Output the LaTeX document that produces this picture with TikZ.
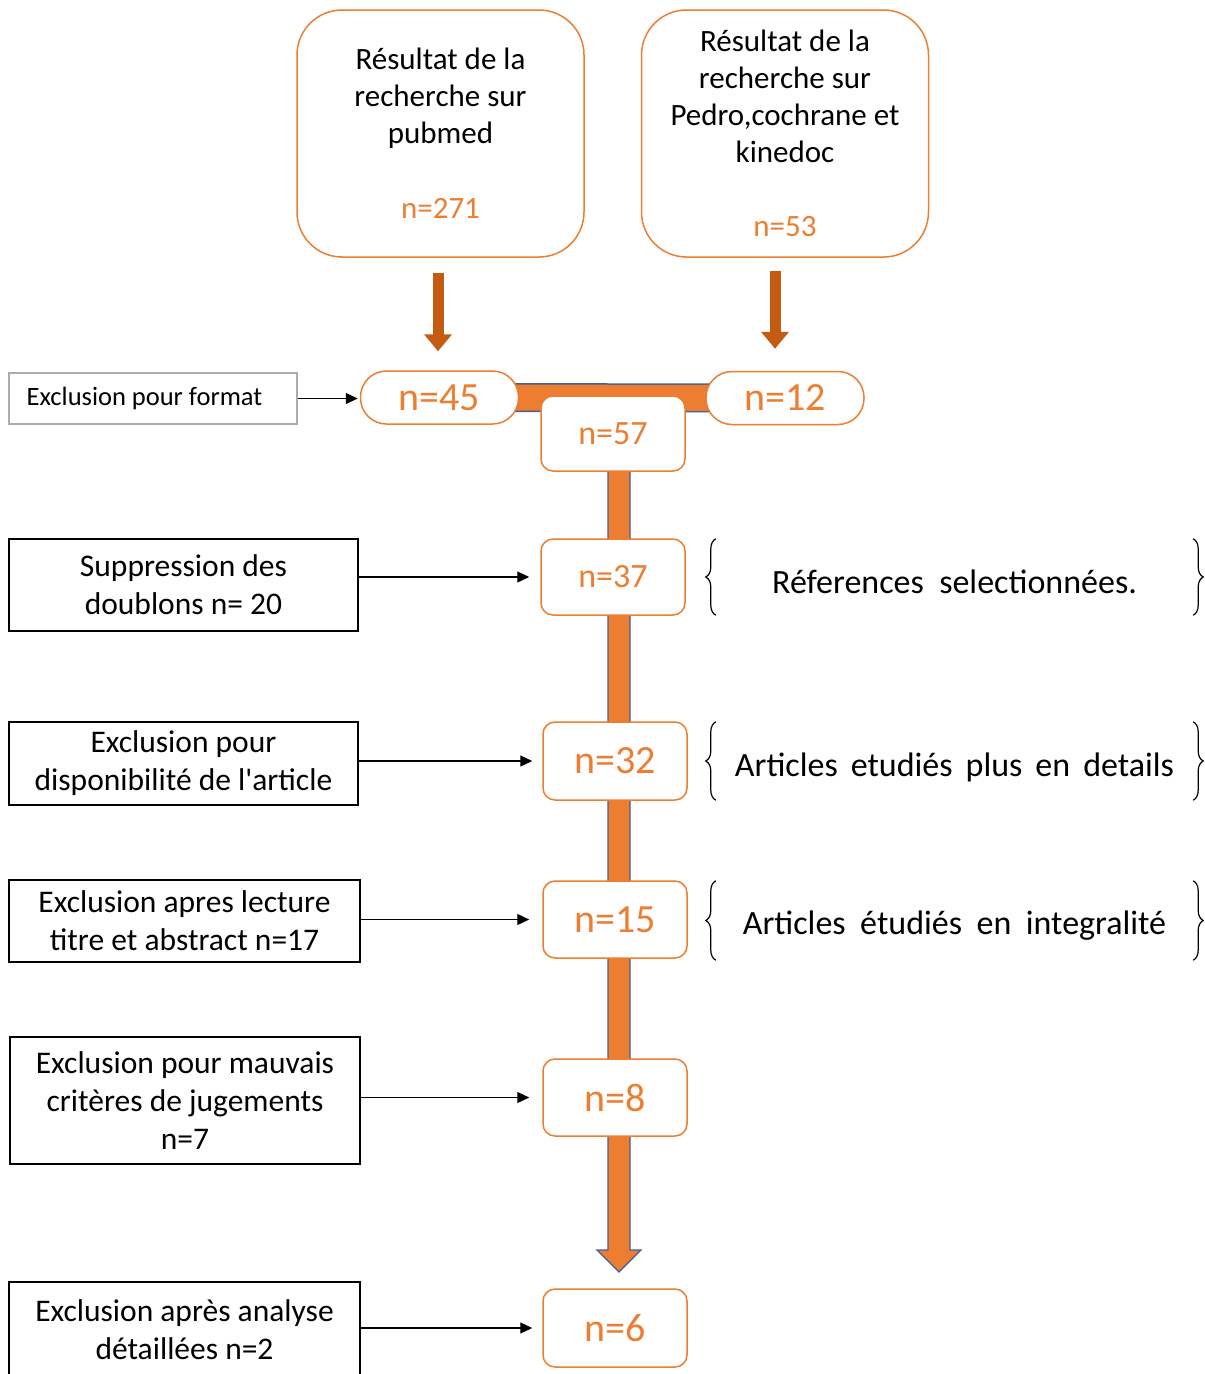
\documentclass[tikz,border=0pt]{standalone}
\usepackage{fontspec}
\setmainfont{Carlito}[Ligatures=TeXOff]
\usetikzlibrary{arrows.meta,decorations.pathreplacing,backgrounds,calc}
\definecolor{orng}{HTML}{ED7D31}
\definecolor{dorng}{HTML}{C55A11}
\definecolor{blu}{HTML}{41609A}
\begin{document}
\begin{tikzpicture}[x=1pt,y=-1pt,
 srcbox/.style={draw=orng, line width=1.5pt, rounded corners=45pt, fill=white, minimum width=287pt, minimum height=247pt, align=center, font=\fontsize{31}{37}\selectfont, inner sep=0pt},
 pill/.style={draw=orng, line width=1.5pt, rounded corners=26pt, fill=white, minimum width=158pt, minimum height=53pt, text=orng, font=\fontsize{40}{48}\selectfont, inner sep=0pt},
 nbox/.style={draw=orng, line width=1.5pt, rounded corners=12pt, fill=white, minimum width=144pt, minimum height=77pt, text=orng, font=\fontsize{40}{48}\selectfont, inner sep=0pt},
 exbox/.style={draw=black, line width=1.5pt, fill=white, align=center, font=\fontsize{31.5}{38}\selectfont, inner sep=0pt},
 exarrow/.style={line width=1.2pt, -{Triangle[width=11pt,length=12pt]}},
 feedarrow/.style={draw=dorng, line width=11pt, -{Triangle[width=27pt,length=17pt]}},
 brc/.style={decorate, decoration={brace, amplitude=10pt}, line width=1.2pt},
 note/.style={font=\fontsize{34}{40}\selectfont, minimum width=477pt, inner sep=0pt}]
\useasboundingbox (0,0) rectangle (1205,1374);

% source boxes
\node[srcbox] (pub) at (440.5,133.5) {Résultat de la\\recherche sur\\pubmed\\[38pt]{\color{orng}\fontsize{31}{37}\selectfont n=271}};
\node[srcbox] (ped) at (785,133.5) {Résultat de la\\recherche sur\\Pedro,cochrane et\\kinedoc\\[37pt]{\color{orng}\fontsize{31}{37}\selectfont n=53}};

% count boxes
\node[pill] (n45) at (439.5,397.5) {n=45};
\node[pill] (n12) at (785,398) {n=12};
\node[nbox, minimum height=75pt, font=\fontsize{34}{40}\selectfont] (n57) at (613,433.5) {n=57};
\node[nbox, minimum height=76pt, font=\fontsize{34}{40}\selectfont] (n37) at (613,577) {n=37};
\node[nbox, minimum height=78pt] (n32) at (615,761) {n=32};
\node[nbox] (n15) at (615,919.5) {n=15};
\node[nbox] (n8) at (615,1097.5) {n=8};
\node[nbox, minimum height=78pt] (n6) at (615,1328) {n=6};
\coordinate (shaftend) at (619,1272);

% exclusion boxes
\node[exbox, draw=gray!65, line width=1.2pt, font=\fontsize{26.5}{30}\selectfont, minimum width=288pt, minimum height=51pt] (fmt) at (153,398.5) {\hspace*{-17pt}Exclusion pour format};
\node[exbox, minimum width=349pt, minimum height=92pt] (b1) at (183.5,585) {Suppression des\\doublons n= 20};
\node[exbox, minimum width=349pt, minimum height=83pt] (b2) at (183.5,763.5) {Exclusion pour\\disponibilité de l'article};
\node[exbox, minimum width=351pt, minimum height=82pt] (b3) at (184.5,921) {Exclusion apres lecture\\titre et abstract n=17};
\node[exbox, minimum width=350pt, minimum height=127pt] (b4) at (185,1100.5) {Exclusion pour mauvais\\critères de jugements\\n=7};
\node[exbox, minimum width=351pt, minimum height=96pt] (b5) at (184.5,1330) {Exclusion après analyse\\détaillées n=2};

% notes with braces
\node[note, minimum height=76pt] (t1) at (954.5,577) {\raisebox{-5pt}[\height][\depth]{Réferences\ \ selectionnées.}};
\node[note, minimum height=78pt] (t2) at (954.5,761) {\raisebox{-6pt}[\height][\depth]{Articles\hspace{13pt}etudiés\hspace{13pt}plus\hspace{13pt}en\hspace{13pt}details}};
\node[note, minimum height=79pt] (t3) at (954.5,920.5) {\raisebox{-5pt}[\height][\depth]{Articles\hspace{14.5pt}étudiés\hspace{14.5pt}en\hspace{14.5pt}integralité}};
\foreach \t in {t1,t2,t3}{
  \draw[brc] (\t.south west) -- (\t.north west);
  \draw[brc] (\t.north east) -- (\t.south east);
}

% feed arrows
\draw[feedarrow] ([xshift=-2.5pt,yshift=-15pt]pub.south) -- ([xshift=-1.5pt,yshift=19pt]n45.north);
\draw[feedarrow] ([xshift=-10pt,yshift=-13pt]ped.south) -- ([xshift=-10pt,yshift=22pt]n12.north);

% exclusion arrows
\draw[exarrow] (fmt.east) -- ([xshift=-2pt]n45.west |- fmt.east);
\draw[exarrow] (b1.east |- n37.west) -- ([xshift=-11pt]n37.west);
\draw[exarrow] (b2.east |- n32.west) -- ([xshift=-10pt]n32.west);
\draw[exarrow] (b3.east |- n15.west) -- ([xshift=-13pt]n15.west);
\draw[exarrow] (b4.east |- n8.west) -- ([xshift=-13pt]n8.west);
\draw[exarrow] (b5.east |- n6.west) -- ([xshift=-10pt]n6.west);

% main flow (behind boxes)
\begin{pgfonlayer}{background}
\draw[line width=29pt, blu] (n45.center) -- (n12.center);
\draw[line width=26pt, orng] (n45.center) -- (n12.center);
\filldraw[fill=orng, draw=blu, line width=1.2pt]
  ($(n57.center)+(-5,0)$) -- ($(shaftend)+(-11,-22)$) -- ($(shaftend)+(-22,-22)$) -- (shaftend)
  -- ($(shaftend)+(22,-22)$) -- ($(shaftend)+(11,-22)$) -- ($(n57.center)+(17,0)$) -- cycle;
\end{pgfonlayer}
\end{tikzpicture}
\end{document}
